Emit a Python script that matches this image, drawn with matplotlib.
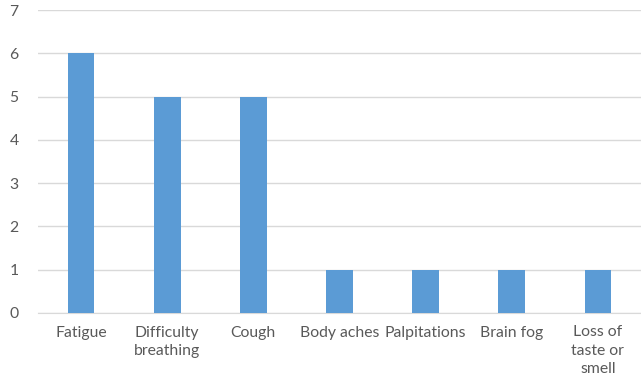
import matplotlib
matplotlib.use("Agg")
import matplotlib.pyplot as plt

symptoms = ["Fatigue", "Difficulty\nbreathing", "Cough", "Body aches",
            "Palpitations", "Brain fog", "Loss of\ntaste or\nsmell"]
counts = [6, 5, 5, 1, 1, 1, 1]

plt.rcParams['font.family'] = ['Lato', 'DejaVu Sans']

fig = plt.figure(figsize=(6.41, 3.84), dpi=100)
ax = fig.add_axes([38 / 641, 71 / 384, 603 / 641, 303 / 384])

x = range(len(symptoms))
ax.bar(x, counts, width=0.31, color="#5B9BD5", zorder=3)

ax.set_xlim(-0.5, len(symptoms) - 0.5)
ax.set_ylim(0, 7)
ax.set_yticks(range(0, 8))
ax.set_xticks(list(x))
ax.set_xticklabels(symptoms, linespacing=1.4)

ax.yaxis.grid(True, color="#D9D9D9", linewidth=1)
ax.set_axisbelow(True)
for side in ["top", "right", "left"]:
    ax.spines[side].set_visible(False)
ax.spines["bottom"].set_color("#D9D9D9")
ax.tick_params(axis="both", length=0, labelsize=11.3, colors="#595959")
ax.tick_params(axis="y", pad=14)
ax.tick_params(axis="x", pad=9)

fig.savefig("out.png", dpi=100)
